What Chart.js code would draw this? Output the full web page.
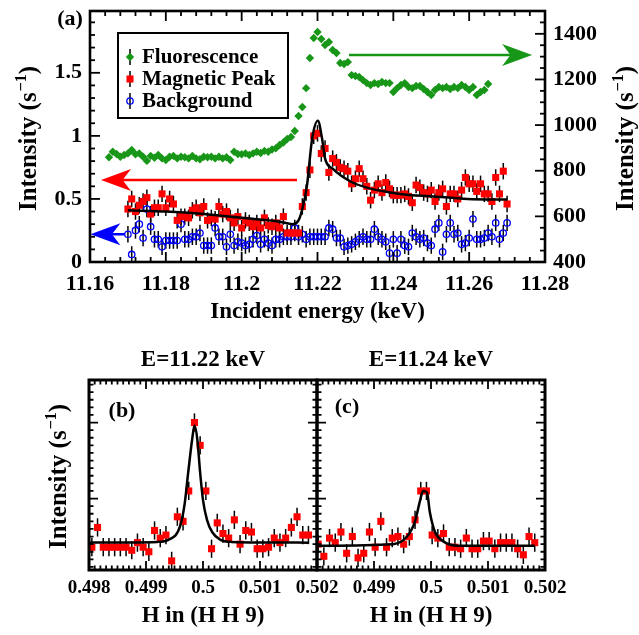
<!DOCTYPE html>
<html>
<head>
<meta charset="utf-8">
<script src="https://cdn.jsdelivr.net/npm/chart.js@4.4.0/dist/chart.umd.min.js"></script>
<style>
  body { margin: 0; background: #fff; }
  #wrap { position: relative; width: 639px; height: 635px; }
  #wrap canvas { position: absolute; left: 0; top: 0; }
</style>
</head>
<body>
<div id="wrap">
  <canvas id="chart-a" width="639" height="635"></canvas>
  <canvas id="chart-b" width="639" height="635"></canvas>
  <canvas id="chart-c" width="639" height="635"></canvas>
</div>
<script>
"use strict";

// ---- panel (a): energy scans ----
const energyStep = 0.001;
const fluoStart = 11.165;
const magStart = 11.17;
const bgStart = 11.17;

// fluorescence, right axis (s^-1)
const fluoValues = [
  859, 883, 873, 861, 869, 876, 891, 872, 876, 861,
  843, 865, 857, 869, 854, 847, 861, 865, 854, 861,
  859, 854, 865, 854, 850, 861, 859, 861, 854, 861,
  854, 859, 847, 883, 873, 872, 876, 869, 876, 883,
  878, 887, 883, 893, 898, 913, 924, 939, 948, 974,
  1040, 1079, 1162, 1294, 1382, 1408, 1377, 1351, 1364, 1329,
  1316, 1272, 1268, 1276, 1219, 1215, 1211, 1197, 1184, 1176,
  1184, 1180, 1189, 1184, 1184, 1145, 1162, 1176, 1184, 1167,
  1162, 1171, 1171, 1158, 1145, 1132, 1154, 1167, 1162, 1167,
  1158, 1167, 1162, 1176, 1167, 1154, 1167, 1132, 1145, 1154,
  1180
];

// magnetic peak, left axis
const magValues = [
  0.42, 0.50, 0.40, 0.45, 0.48, 0.51, 0.38, 0.43, 0.43, 0.54,
  0.43, 0.50, 0.46, 0.33, 0.36, 0.36, 0.35, 0.41, 0.43, 0.39,
  0.44, 0.33, 0.35, 0.34, 0.44, 0.38, 0.40, 0.35, 0.31, 0.36,
  0.27, 0.33, 0.31, 0.28, 0.31, 0.27, 0.35, 0.29, 0.28, 0.31,
  0.27, 0.36, 0.23, 0.23, 0.23, 0.23, 0.44, 0.55, 0.73, 1.00,
  1.02, 0.86, 0.90, 0.71, 0.82, 0.79, 0.75, 0.74, 0.72, 0.62,
  0.66, 0.74, 0.66, 0.60, 0.49, 0.57, 0.62, 0.55, 0.63, 0.58,
  0.53, 0.53, 0.53, 0.54, 0.52, 0.47, 0.61, 0.59, 0.55, 0.54,
  0.57, 0.48, 0.55, 0.58, 0.44, 0.54, 0.54, 0.50, 0.57, 0.67,
  0.62, 0.62, 0.56, 0.62, 0.54, 0.54, 0.48, 0.67, 0.54, 0.72,
  0.46
];

// background, left axis
const bgValues = [
  0.22, 0.06, 0.25, 0.30, 0.19, 0.42, 0.28, 0.18, 0.18, 0.12,
  0.17, 0.17, 0.17, 0.17, 0.30, 0.18, 0.18, 0.20, 0.20, 0.23,
  0.13, 0.13, 0.13, 0.27, 0.20, 0.20, 0.12, 0.22, 0.13, 0.16,
  0.15, 0.13, 0.14, 0.18, 0.21, 0.14, 0.18, 0.15, 0.13, 0.18,
  0.18, 0.20, 0.20, 0.20, 0.27, 0.20, 0.22, 0.18, 0.20, 0.20,
  0.20, 0.20, 0.20, 0.27, 0.26, 0.19, 0.19, 0.12, 0.13, 0.14,
  0.16, 0.18, 0.20, 0.18, 0.18, 0.26, 0.20, 0.18, 0.16, 0.07,
  0.18, 0.07, 0.18, 0.13, 0.12, 0.23, 0.20, 0.18, 0.19, 0.15,
  0.13, 0.26, 0.31, 0.08, 0.22, 0.31, 0.22, 0.23, 0.14, 0.15,
  0.19, 0.34, 0.18, 0.18, 0.19, 0.23, 0.20, 0.31, 0.18, 0.23,
  0.31
];

// fit curve of the magnetic peak
const fitEnergy = [11.170, 11.180, 11.190, 11.200, 11.210, 11.2135, 11.215, 11.216, 11.2172, 11.2186,
  11.2201, 11.2212, 11.222, 11.224, 11.2286, 11.233, 11.2418, 11.2506, 11.2596, 11.270];
const fitValues = [0.41, 0.40, 0.38, 0.35, 0.32, 0.30, 0.33, 0.42, 0.60, 0.98,
  1.12, 0.98, 0.82, 0.74, 0.64, 0.59, 0.54, 0.52, 0.50, 0.495];

const magError = 0.065;
const bgError = 0.065;

// ---- panels (b) and (c): H scans ----
const hStep = 0.0001;
const bStart = 0.49805;
const bValues = [
  0.18, 0.31, 0.18, 0.18, 0.18, 0.18, 0.18, 0.16, 0.21, 0.18,
  0.15, 0.29, 0.24, 0.26, 0.09, 0.38, 0.35, 0.55, 1.00, 0.85,
  0.55, 0.17, 0.34, 0.27, 0.24, 0.36, 0.20, 0.29, 0.28, 0.17,
  0.17, 0.18, 0.24, 0.21, 0.24, 0.31, 0.38, 0.26, 0.26
];
const bFitH = [0.4980, 0.4992, 0.4994, 0.4996, 0.49968, 0.49974, 0.49981, 0.49985,
  0.4999, 0.49995, 0.5000, 0.50007, 0.50016, 0.5003, 0.5005, 0.50185];
const bFitValues = [0.21, 0.215, 0.23, 0.32, 0.47, 0.67, 0.89, 0.98,
  0.89, 0.67, 0.49, 0.36, 0.28, 0.23, 0.215, 0.21];

const cStart = 0.49802;
const cValues = [
  0.20, 0.12, 0.24, 0.21, 0.28, 0.14, 0.25, 0.11, 0.14, 0.28,
  0.18, 0.35, 0.18, 0.24, 0.25, 0.20, 0.25, 0.36, 0.55, 0.55,
  0.26, 0.24, 0.27, 0.18, 0.18, 0.17, 0.24, 0.17, 0.17, 0.22,
  0.22, 0.17, 0.21, 0.21, 0.21, 0.17, 0.13, 0.25, 0.21
];
const cFitH = [0.4980, 0.49933, 0.49958, 0.49972, 0.49981, 0.49986, 0.49993,
  0.49998, 0.50007, 0.50021, 0.50046, 0.50182];
const cFitValues = [0.19, 0.20, 0.25, 0.35, 0.49, 0.55, 0.54,
  0.41, 0.28, 0.22, 0.19, 0.19];

const scanError = 0.06;

const FONT = '"Liberation Serif", "Times New Roman", serif';
const GREEN = "rgb(24,150,24)";
const RED = "#ff0000";
const BLUE = "#0000ff";

Chart.defaults.color = "#000";
Chart.defaults.animation = false;

// builds {x, y} points on a regular grid
function gridPoints(start, step, values) {
  return values.map((v, i) => ({ x: +(start + i * step).toFixed(6), y: v }));
}

function pairPoints(xs, ys) {
  return xs.map((x, i) => ({ x: x, y: ys[i] }));
}

function boldFont(size) {
  return { family: FONT, size: size, weight: "bold" };
}

//rotated "Intensity (s^-1)" with a real superscript
function drawIntensityTitle(ctx, x, y, size) {
  const main = "Intensity (s";
  const sup = "\u22121";
  const small = Math.round(size * 0.62);
  ctx.save();
  ctx.translate(x, y);
  ctx.rotate(-Math.PI / 2);
  ctx.textAlign = "left";
  ctx.textBaseline = "alphabetic";
  ctx.font = "bold " + size + "px " + FONT;
  const w1 = ctx.measureText(main).width;
  const w3 = ctx.measureText(")").width;
  ctx.font = "bold " + small + "px " + FONT;
  const w2 = ctx.measureText(sup).width;
  const x0 = -(w1 + w2 + w3) / 2;
  const base = size * 0.33;
  ctx.font = "bold " + size + "px " + FONT;
  ctx.fillText(main, x0, base);
  ctx.fillText(")", x0 + w1 + w2 + 1, base);
  ctx.font = "bold " + small + "px " + FONT;
  ctx.fillText(sup, x0 + w1 + 1, base - size * 0.42);
  ctx.restore();
}

// vertical error bars under the markers
const errorBars = {
  id: "errorBars",
  beforeDatasetsDraw(chart) {
    const ctx = chart.ctx;
    ctx.save();
    ctx.strokeStyle = "#000";
    ctx.lineWidth = 1.5;
    chart.data.datasets.forEach((ds, i) => {
      if (!ds.errorBar) return;
      const ys = chart.scales[ds.yAxisID || "y"];
      chart.getDatasetMeta(i).data.forEach((pt, j) => {
        const v = ds.data[j].y;
        ctx.beginPath();
        ctx.moveTo(pt.x, ys.getPixelForValue(v - ds.errorBar));
        ctx.lineTo(pt.x, ys.getPixelForValue(v + ds.errorBar));
        ctx.stroke();
      });
    });
    ctx.restore();
  }
};

// inward ticks on every side plus the thick frame
const frameTicks = {
  id: "frameTicks",
  afterDraw(chart, args, opts) {
    const ctx = chart.ctx;
    const a = chart.chartArea;
    ctx.save();
    ctx.strokeStyle = "#000";
    ctx.lineWidth = opts.tickWidth;
    (opts.axes || []).forEach(t => {
      const s = chart.scales[t.id];
      const minorStep = t.major / t.minor;
      const k0 = Math.ceil(s.min / minorStep - 1e-6);
      const k1 = Math.floor(s.max / minorStep + 1e-6);
      for (let k = k0; k <= k1; k++) {
        const len = k % t.minor === 0 ? opts.majorLen : opts.minorLen;
        const p = s.getPixelForValue(k * minorStep);
        ctx.beginPath();
        t.sides.forEach(side => {
          if (side === "bottom") { ctx.moveTo(p, a.bottom); ctx.lineTo(p, a.bottom - len); }
          if (side === "top") { ctx.moveTo(p, a.top); ctx.lineTo(p, a.top + len); }
          if (side === "left") { ctx.moveTo(a.left, p); ctx.lineTo(a.left + len, p); }
          if (side === "right") { ctx.moveTo(a.right, p); ctx.lineTo(a.right - len, p); }
        });
        ctx.stroke();
      }
    });
    ctx.lineWidth = opts.frameWidth;
    ctx.strokeRect(a.left, a.top, a.right - a.left, a.bottom - a.top);
    ctx.restore();
  }
};

// free text: panel letters, headers, y titles
const panelText = {
  id: "panelText",
  afterDraw(chart, args, opts) {
    const ctx = chart.ctx;
    ctx.save();
    ctx.fillStyle = "#000";
    ctx.textAlign = "center";
    ctx.textBaseline = "middle";
    (opts.texts || []).forEach(t => {
      ctx.font = "bold " + t.size + "px " + FONT;
      ctx.fillText(t.text, t.x, t.y);
    });
    (opts.yTitles || []).forEach(t => drawIntensityTitle(ctx, t.x, t.y, t.size));
    ctx.restore();
  }
};

// arrows pointing to the axis each curve belongs to
const axisArrows = {
  id: "axisArrows",
  afterDatasetsDraw(chart, args, opts) {
    const ctx = chart.ctx;
    const xs = chart.scales.x;
    (opts.list || []).forEach(ar => {
      const y = chart.scales[ar.axis].getPixelForValue(ar.value);
      const xFrom = xs.getPixelForValue(ar.from);
      const xTip = xs.getPixelForValue(ar.to);
      const dir = Math.sign(xTip - xFrom);
      const head = opts.headLength;
      ctx.save();
      ctx.strokeStyle = ar.color;
      ctx.fillStyle = ar.color;
      ctx.lineWidth = opts.lineWidth;
      ctx.beginPath();
      ctx.moveTo(xFrom, y);
      ctx.lineTo(xTip - dir * head * 0.7, y);
      ctx.stroke();
      ctx.beginPath();
      ctx.moveTo(xTip, y);
      ctx.lineTo(xTip - dir * head, y - opts.headHalf);
      ctx.lineTo(xTip - dir * head * 0.72, y);
      ctx.lineTo(xTip - dir * head, y + opts.headHalf);
      ctx.closePath();
      ctx.fill();
      ctx.restore();
    });
  }
};

// boxed legend inside panel (a)
const legendBox = {
  id: "legendBox",
  afterDraw(chart, args, opts) {
    if (!opts.items) return;
    const ctx = chart.ctx;
    const b = opts.box;
    ctx.save();
    ctx.strokeStyle = "#000";
    ctx.lineWidth = 2;
    ctx.strokeRect(b[0], b[1], b[2] - b[0], b[3] - b[1]);
    opts.items.forEach((idx, row) => {
      const ds = chart.data.datasets[idx];
      const y = opts.firstRow + row * opts.rowGap;
      ctx.strokeStyle = "#000";
      ctx.lineWidth = 1.5;
      ctx.beginPath();
      ctx.moveTo(opts.markerX, y - 8);
      ctx.lineTo(opts.markerX, y + 8);
      ctx.stroke();
      ctx.fillStyle = ds.backgroundColor;
      ctx.strokeStyle = ds.borderColor || ds.backgroundColor;
      ctx.lineWidth = ds.borderWidth || 0;
      Chart.helpers.drawPoint(ctx, {
        pointStyle: ds.pointStyle, radius: ds.pointRadius, borderWidth: ds.borderWidth || 0, rotation: 0
      }, opts.markerX, y);
      ctx.fillStyle = "#000";
      ctx.font = "bold " + opts.fontSize + "px " + FONT;
      ctx.textAlign = "left";
      ctx.textBaseline = "middle";
      ctx.fillText(ds.label, opts.textX, y + 1);
    });
    ctx.restore();
  }
};

const PLUGINS = [errorBars, frameTicks, panelText, axisArrows, legendBox];

function noPadY(s, w) { s.width = w; s.paddingTop = 0; s.paddingBottom = 0; }
function noPadX(s, h) { s.height = h; s.paddingLeft = 0; s.paddingRight = 0; }

const hiddenGrid = { display: false, drawTicks: false };

// panel (a)
new Chart(document.getElementById("chart-a"), {
  type: "scatter",
  data: {
    datasets: [
      {
        label: "Fluorescence", data: gridPoints(fluoStart, energyStep, fluoValues), yAxisID: "y2",
        pointStyle: "rectRot", pointRadius: 4.2, backgroundColor: GREEN, borderWidth: 0, order: 3
      },
      {
        label: "Magnetic Peak", data: gridPoints(magStart, energyStep, magValues), yAxisID: "y",
        pointStyle: "rect", pointRadius: 5, backgroundColor: RED, borderWidth: 0, errorBar: magError, order: 1
      },
      {
        label: "Background", data: gridPoints(bgStart, energyStep, bgValues), yAxisID: "y",
        pointStyle: "circle", pointRadius: 3.2, backgroundColor: "rgba(0,0,0,0)", borderColor: BLUE,
        borderWidth: 1.3, errorBar: bgError, order: 2
      },
      {
        type: "line", label: "fit", data: pairPoints(fitEnergy, fitValues), yAxisID: "y",
        borderColor: "#000", borderWidth: 2.5, borderJoinStyle: "round", pointRadius: 0,
        cubicInterpolationMode: "monotone", order: 0
      }
    ]
  },
  options: {
    responsive: false,
    layout: { padding: { top: 11, left: 0, right: 0, bottom: 307 } },
    plugins: {
      legend: { display: false },
      tooltip: { enabled: false },
      frameTicks: {
        tickWidth: 1.8, frameWidth: 2.6, majorLen: 10, minorLen: 5,
        axes: [
          { id: "x", major: 0.02, minor: 5, sides: ["bottom", "top"] },
          { id: "y", major: 0.5, minor: 5, sides: ["left"] },
          { id: "y2", major: 200, minor: 4, sides: ["right"] }
        ]
      },
      panelText: {
        texts: [{ text: "(a)", x: 70, y: 19, size: 22 }],
        yTitles: [{ x: 28, y: 139, size: 25 }, { x: 625, y: 139, size: 25 }]
      },
      axisArrows: {
        lineWidth: 2.5, headLength: 30, headHalf: 11,
        list: [
          { color: RED, axis: "y", value: 0.65, from: 11.2146, to: 11.1629 },
          { color: BLUE, axis: "y", value: 0.22, from: 11.1692, to: 11.1601 },
          { color: GREEN, axis: "y2", value: 1307, from: 11.2283, to: 11.2766 }
        ]
      },
      legendBox: {
        box: [118, 33, 288, 118], items: [0, 1, 2],
        markerX: 130, textX: 142, firstRow: 57, rowGap: 22, fontSize: 21
      }
    },
    scales: {
      x: {
        type: "linear", position: "bottom", min: 11.16, max: 11.28,
        grid: hiddenGrid, border: { display: false },
        ticks: {
          stepSize: 0.02, autoSkip: false, maxRotation: 0, includeBounds: false, padding: 9,
          font: boldFont(22), callback: v => String(+v.toFixed(2))
        },
        title: { display: true, text: "Incident energy (keV)", font: boldFont(23), padding: { top: 0, bottom: 2 } },
        afterFit: s => noPadX(s, 66)
      },
      y: {
        position: "left", min: 0, max: 1.99,
        grid: hiddenGrid, border: { display: false },
        ticks: { stepSize: 0.5, includeBounds: false, padding: 8, font: boldFont(22), callback: v => String(+v.toFixed(1)) },
        afterFit: s => noPadY(s, 90)
      },
      y2: {
        position: "right", min: 400, max: 1500,
        grid: hiddenGrid, border: { display: false },
        ticks: { stepSize: 200, includeBounds: false, padding: 8, font: boldFont(22), callback: v => String(v) },
        afterFit: s => noPadY(s, 94)
      }
    }
  },
  plugins: PLUGINS
});

// shared builder for the two H scans
function hScan(canvasId, start, values, fitH, fitVals, rightPad, yWidth, extra) {
  return new Chart(document.getElementById(canvasId), {
    type: "scatter",
    data: {
      datasets: [
        {
          type: "line", label: "fit", data: pairPoints(fitH, fitVals),
          borderColor: "#000", borderWidth: 2.5, borderJoinStyle: "round", pointRadius: 0,
          cubicInterpolationMode: "monotone", order: 0
        },
        {
          label: "Magnetic Peak", data: gridPoints(start, hStep, values),
          pointStyle: "rect", pointRadius: 5, backgroundColor: RED, borderWidth: 0, errorBar: scanError, order: 1
        }
      ]
    },
    options: {
      responsive: false,
      layout: { padding: { top: 380, left: 0, right: rightPad, bottom: 3 } },
      plugins: {
        legend: { display: false },
        tooltip: { enabled: false },
        frameTicks: {
          tickWidth: 1.8, frameWidth: 3, majorLen: 9, minorLen: 4.5,
          axes: [
            { id: "x", major: 0.001, minor: 10, sides: ["bottom", "top"] },
            { id: "y", major: 0.5, minor: 10, sides: ["left", "right"] }
          ]
        },
        panelText: extra
      },
      scales: {
        x: {
          type: "linear", position: "bottom", min: 0.498, max: 0.502,
          grid: hiddenGrid, border: { display: false },
          ticks: {
            stepSize: 0.001, autoSkip: false, maxRotation: 0, includeBounds: false, padding: 7,
            font: boldFont(19),
            callback: (v, i) => (canvasId === "chart-c" && i === 0) ? "" : String(+v.toFixed(3))
          },
          title: { display: true, text: "H in (H H 9)", font: boldFont(23), padding: { top: 0, bottom: 2 } },
          afterFit: s => noPadX(s, 62)
        },
        y: {
          position: "left", min: 0.03, max: 1.28,
          grid: hiddenGrid, border: { display: false },
          ticks: { display: false },
          afterFit: s => noPadY(s, yWidth)
        }
      }
    },
    plugins: PLUGINS
  });
}

hScan("chart-b", bStart, bValues, bFitH, bFitValues, 322, 89, {
  texts: [
    { text: "E=11.22 keV", x: 203, y: 360, size: 23 },
    { text: "(b)", x: 122, y: 411, size: 22 }
  ],
  yTitles: [{ x: 58, y: 477, size: 25 }]
});

hScan("chart-c", cStart, cValues, cFitH, cFitValues, 94, 317, {
  texts: [
    { text: "E=11.24 keV", x: 431, y: 360, size: 23 },
    { text: "(c)", x: 347, y: 407, size: 22 }
  ]
});
</script>
</body>
</html>
